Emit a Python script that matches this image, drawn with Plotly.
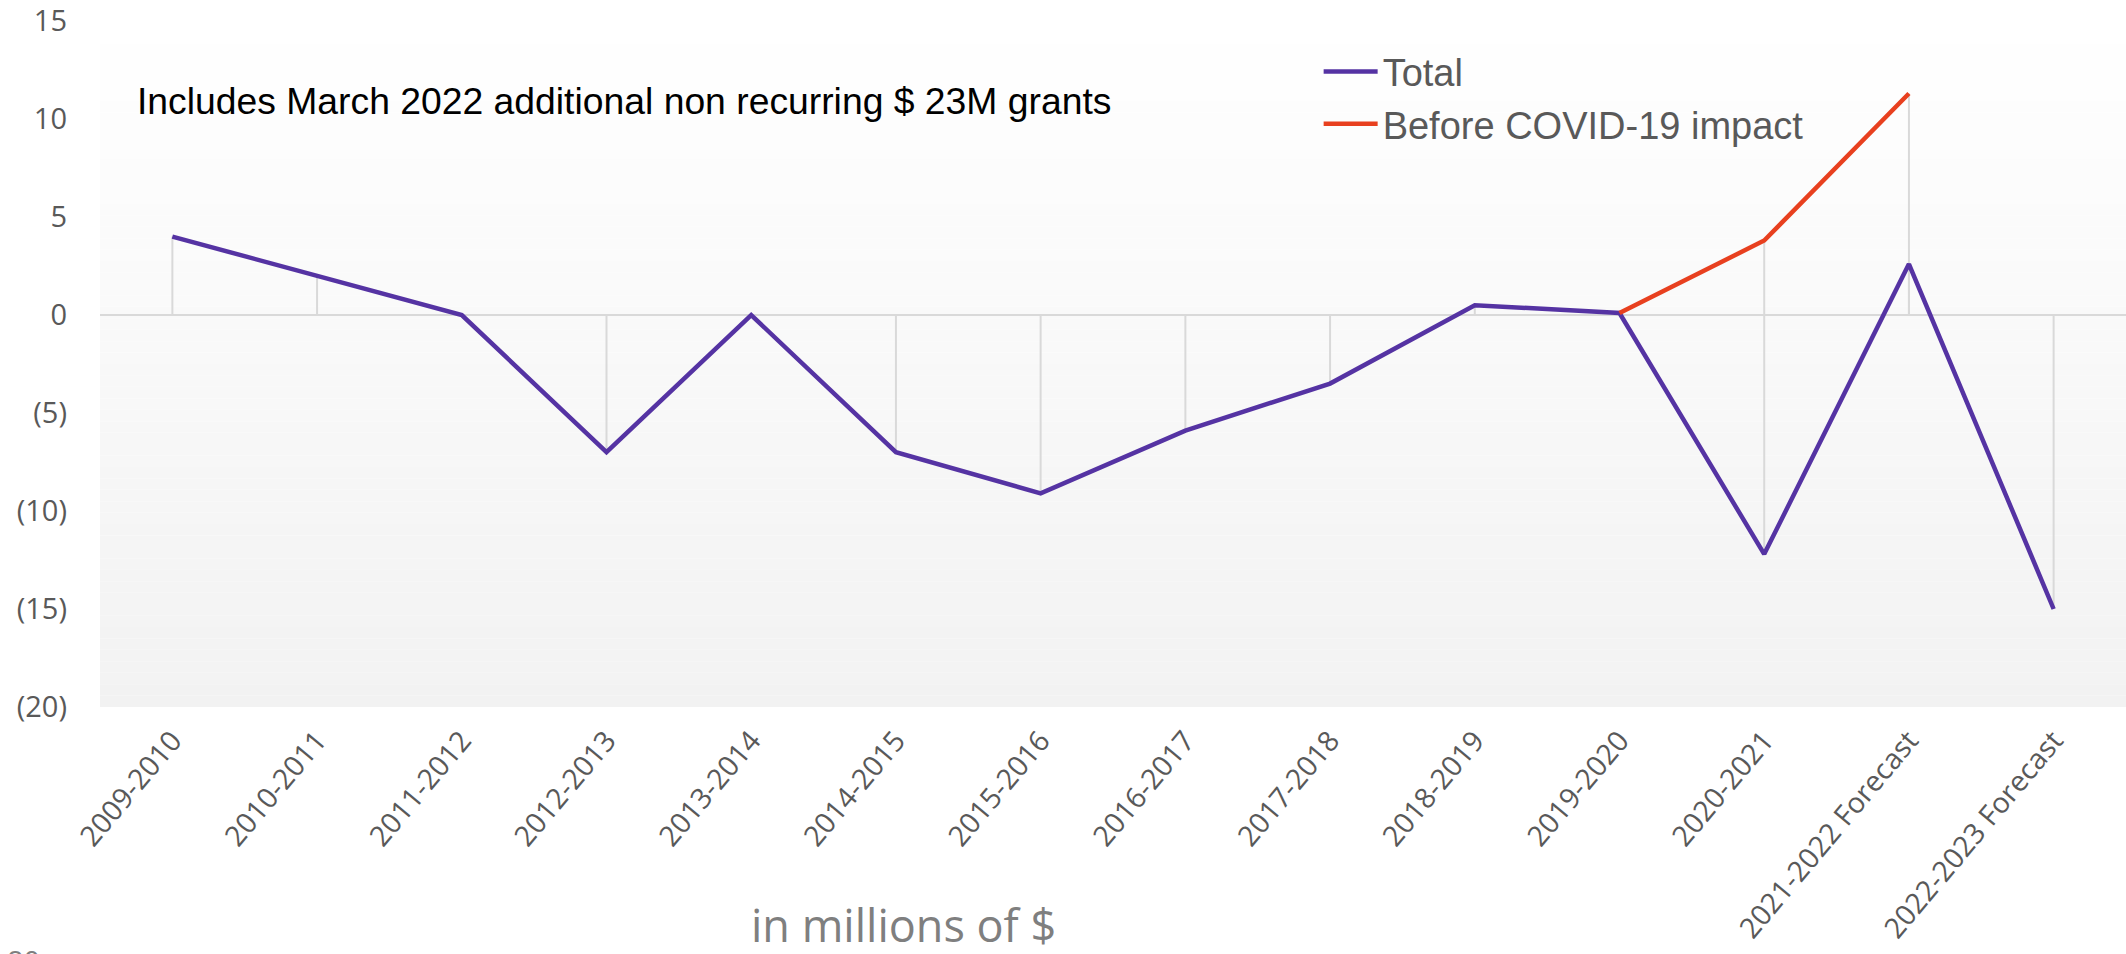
import plotly.graph_objects as go

# Fiscal years on the category axis
categories = [
    "2009-2010", "2010-2011", "2011-2012", "2012-2013", "2013-2014",
    "2014-2015", "2015-2016", "2016-2017", "2017-2018", "2018-2019",
    "2019-2020", "2020-2021", "2021-2022 Forecast", "2022-2023 Forecast",
]

# Results in millions of $
total = [4.0, 2.0, 0.0, -7.0, 0.0, -7.0, -9.1, -5.9, -3.5, 0.5, 0.1, -12.2, 2.6, -15.0]
before_covid = [None, None, None, None, None, None, None, None, None, None, 0.1, 3.8, 11.3, None]

# Value axis ticks (negatives shown in parentheses)
y_tick_values = [15, 10, 5, 0, -5, -10, -15, -20]
y_tick_labels = ["15", "10", "5", "0", "(5)", "(10)", "(15)", "(20)"]

PURPLE = "#5533A3"
RED = "#E8401F"
GRID = "#D9D9D9"
TEXT_GRAY = "#595959"

fig = go.Figure()

# Drop lines from each point down (or up) to the zero axis
drop_x, drop_y = [], []
for series in (total, before_covid):
    for cat, v in zip(categories, series):
        if v is None or v == 0:
            continue
        drop_x += [cat, cat, None]
        drop_y += [0, v, None]
fig.add_trace(go.Scatter(
    x=drop_x, y=drop_y, mode="lines",
    line=dict(color=GRID, width=2),
    showlegend=False, hoverinfo="skip",
))

fig.add_trace(go.Scatter(
    x=categories, y=total, mode="lines", name="Total",
    line=dict(color=PURPLE, width=4.5),
))
fig.add_trace(go.Scatter(
    x=categories, y=before_covid, mode="lines", name="Before COVID-19 impact",
    line=dict(color=RED, width=4.5),
))

# Soft vertical gradient for the plot area background (white to light gray)
n_bands = 60
shapes = []
for i in range(n_bands):
    t = (i + 0.5) / n_bands
    c = round(255 - 13 * t)
    shapes.append(dict(
        type="rect", xref="x domain", yref="y domain",
        x0=0, x1=1, y0=1 - (i + 1) / n_bands, y1=1 - i / n_bands,
        fillcolor=f"rgb({c},{c},{c})", line=dict(width=0), layer="below",
    ))

fig.update_layout(
    width=2126, height=954,
    margin=dict(l=100, r=0, t=21, b=247),
    paper_bgcolor="white",
    plot_bgcolor="white",
    shapes=shapes,
    showlegend=True,
    legend=dict(
        x=0.6015, y=0.972, xanchor="left", yanchor="top",
        bgcolor="rgba(0,0,0,0)",
        font=dict(family="Liberation Sans, Arial", size=38, color=TEXT_GRAY),
        tracegroupgap=0, itemwidth=54,
    ),
    annotations=[
        dict(
            text="Includes March 2022 additional non recurring $ 23M grants",
            xref="paper", yref="paper", x=0.0175, y=0.884,
            xanchor="left", yanchor="middle", showarrow=False,
            font=dict(family="Liberation Sans, Arial", size=37.3, color="black"),
        ),
        dict(
            text="in millions of $",
            xref="paper", yref="paper", x=0.3965, y=-0.317,
            xanchor="center", yanchor="middle", showarrow=False,
            font=dict(family="Open Sans", size=45, color="#7F7F7F"),
        ),
        dict(
            text="80",
            xref="paper", yref="paper", x=-0.047, y=-0.3386,
            xanchor="left", yanchor="top", showarrow=False,
            font=dict(family="Open Sans", size=29, color="#7F7F7F"),
        ),
    ],
)

fig.update_xaxes(
    type="category",
    categoryorder="array", categoryarray=categories,
    range=[-0.5, len(categories) - 0.5],
    showgrid=False, showline=False, zeroline=False,
    ticks="", tickangle=-50, ticklabelstandoff=10,
    tickfont=dict(family="Open Sans", size=28.5, color=TEXT_GRAY),
)
fig.update_yaxes(
    range=[-20, 15],
    tickmode="array", tickvals=y_tick_values, ticktext=y_tick_labels,
    showgrid=False, showline=False,
    zeroline=True, zerolinecolor=GRID, zerolinewidth=2,
    ticks="", ticklabelstandoff=32,
    tickfont=dict(family="Open Sans", size=29, color=TEXT_GRAY),
)

fig.write_html("out.html")
